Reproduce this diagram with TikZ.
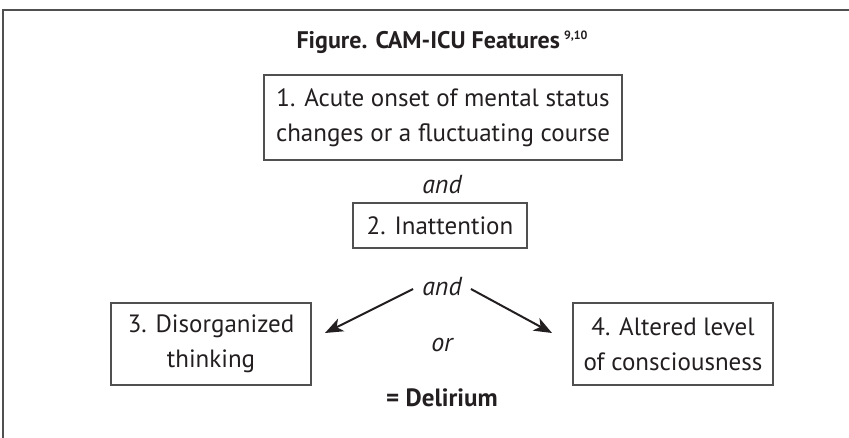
\documentclass[tikz,border=0pt]{standalone}
\usepackage{fontspec}
\setmainfont{PT Sans}
\usetikzlibrary{arrows.meta}
\definecolor{ink}{HTML}{231F20}
\definecolor{rule}{HTML}{505050}
\tikzset{
  featbox/.style={draw=rule, line width=1.2pt, text=ink, align=center,
    inner sep=0pt, font=\fontsize{25}{35}\selectfont},
  joiner/.style={text=ink, font=\fontsize{26}{30}\selectfont\itshape, inner sep=9pt},
  arr/.style={draw=ink, line width=2pt, -{Stealth[length=18pt,width=14pt,inset=5pt]}}
}
\begin{document}
\begin{tikzpicture}[x=1pt,y=-1pt]
  \useasboundingbox (0,0) rectangle (849,438);
  % frame
  \draw[rule, line width=1.6pt] (3,438) -- (3,10) -- (849,10);
  % title
  \node[text=ink, font=\fontsize{24}{28}\selectfont\bfseries] (title) at (442,42)
    {Figure. CAM-ICU Features\,\raisebox{0.75ex}{\fontsize{12}{12}\selectfont 9,10}};
  % feature boxes
  \node[featbox, minimum width=358pt, minimum height=85pt] (f1) at (443,117.5)
    {1. Acute onset of mental status\\changes or a fluctuating course};
  \node[joiner] (and1) at (442,185) {and};
  \node[featbox, minimum width=174pt, minimum height=45pt] (f2) at (440,225.5)
    {2. Inattention};
  \node[joiner] (and2) at (442,287) {and};
  \node[featbox, minimum width=200pt, minimum height=82pt] (f3) at (211,344)
    {3. Disorganized\\thinking};
  \node[featbox, minimum width=200pt, minimum height=82pt] (f4) at (673,344)
    {4. Altered level\\of consciousness};
  \node[joiner, inner sep=0pt] (or) at (442,345) {or};
  \node[text=ink, font=\fontsize{25}{28}\selectfont\bfseries] (result) at (442,398)
    {= Delirium};
  % branch arrows
  \coordinate (tipL) at (325,333);
  \coordinate (tipR) at (552,333);
  \draw[arr] ([yshift=-2pt]and2.west) -- (tipL);
  \draw[arr] ([yshift=-2pt]and2.east) -- (tipR);
\end{tikzpicture}
\end{document}
